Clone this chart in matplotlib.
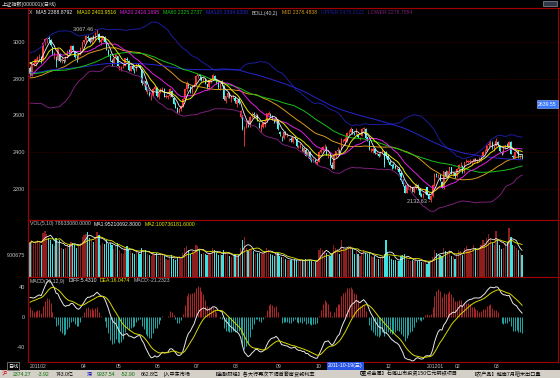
import numpy as np
import pandas as pd
import matplotlib
matplotlib.use("Agg")
import matplotlib.pyplot as plt
from matplotlib.patches import Rectangle

plt.rcParams['font.family'] = ['Liberation Sans', 'Noto Sans CJK SC', 'DejaVu Sans']

# ==== data (daily, 2011-02-23 .. 2012-03-22) ====
# closes before the visible window, only used to warm up the indicators
warm_closes = [
    2894, 2838, 2858, 2888, 2828, 2875, 2880, 2870, 2880, 2835, 2820,
    2823, 2842, 2857, 2878, 2875, 2893, 2865, 2882, 2925, 2928, 2913, 2866,
    2894, 2855, 2873, 2852, 2838, 2834, 2833, 2767, 2793, 2791, 2808,
    2852, 2839, 2824, 2838, 2792, 2804, 2821, 2827, 2791, 2706, 2721, 2756,
    2678, 2715, 2677, 2677, 2708, 2742, 2752, 2790,
    2798, 2800, 2775, 2800, 2828, 2900, 2900, 2934, 2920, 2900, 2932, 2863,
]

opens = [
    2860, 2822, 2880, 2880,
    2907, 2912, 2918, 2901, 2994, 3012, 3021, 3011, 2970, 2931, 2907, 2899, 2935, 2898, 2899, 2891, 2917, 2951, 2945, 2979, 2947, 2914, 2910,
    2930, 2968, 2998, 3007, 3028, 3020, 2997, 3024, 3017, 3051, 3043, 2998, 3010, 3028, 2995, 2950, 2931, 2893, 2880,
    2911, 2924, 2858, 2850, 2866, 2870, 2909, 2898, 2840, 2870, 2853, 2846, 2880, 2870, 2850, 2770, 2787, 2730, 2737, 2705, 2706,
    2745, 2750, 2698, 2730, 2740, 2745, 2699, 2700, 2705, 2735, 2695, 2660, 2640, 2618, 2637, 2650, 2690, 2745, 2770, 2755, 2726,
    2765, 2770, 2812, 2818, 2805, 2790, 2795, 2770, 2752, 2788, 2795, 2815, 2795, 2780, 2750, 2780, 2760, 2680, 2702, 2720, 2693,
    2700, 2695, 2660, 2690, 2590, 2600, 2495, 2540, 2560, 2548, 2595, 2610, 2598, 2600, 2555, 2522, 2540, 2552, 2570, 2605, 2605, 2595, 2575,
    2565, 2580, 2510, 2480, 2476, 2510, 2492, 2470, 2475, 2458, 2485, 2475, 2428, 2430, 2420, 2400, 2415, 2380, 2400, 2366, 2358,
    2360, 2333, 2350, 2400, 2415, 2433, 2430, 2383, 2380, 2330, 2312, 2380, 2405, 2410, 2420, 2465,
    2460, 2462, 2505, 2512, 2525, 2505, 2503, 2495, 2475, 2490, 2526, 2528, 2482, 2462, 2410, 2410, 2420, 2390, 2390, 2395, 2404, 2405,
    2400, 2380, 2350, 2330, 2328, 2326, 2305, 2312, 2287, 2245, 2220, 2178, 2215, 2212, 2210, 2186, 2205, 2222, 2200, 2170, 2160, 2175,
    2212, 2168, 2140, 2165, 2222, 2280, 2270, 2276, 2240, 2205, 2295, 2265, 2300, 2318, 2275,
    2288, 2270, 2310, 2330, 2328, 2292, 2346, 2348, 2350, 2345, 2350, 2366, 2350, 2360, 2361, 2380, 2405, 2408, 2440, 2445, 2452,
    2420, 2435, 2458, 2440, 2402, 2397, 2422, 2440, 2433, 2456, 2380, 2370, 2403, 2408, 2375, 2380,
]

highs = [
    2868, 2880, 2906, 2910,
    2925, 2932, 2922, 2996, 3022, 3027, 3031, 3015, 2975, 2945, 2923, 2961, 2937, 2917, 2909, 2920, 2956, 2960, 2983, 2984, 2950, 2927, 2938,
    2969, 3000, 3012, 3035, 3038, 3028, 3029, 3035, 3054, 3067.46, 3046, 3018, 3030, 3030, 2996, 2958, 2933, 2906, 2918,
    2935, 2925, 2870, 2870, 2880, 2912, 2917, 2900, 2875, 2875, 2860, 2882, 2885, 2875, 2850, 2792, 2790, 2745, 2740, 2720, 2747,
    2765, 2752, 2730, 2750, 2757, 2747, 2715, 2713, 2748, 2738, 2700, 2672, 2645, 2640, 2657, 2695, 2750, 2786, 2778, 2760, 2763,
    2777, 2822, 2827, 2825, 2812, 2806, 2801, 2773, 2794, 2800, 2826, 2822, 2800, 2785, 2784, 2790, 2765, 2706, 2732, 2726, 2710,
    2712, 2703, 2690, 2700, 2630, 2605, 2545, 2578, 2575, 2598, 2618, 2620, 2614, 2606, 2567, 2553, 2565, 2575, 2615, 2625, 2615, 2601, 2585,
    2590, 2582, 2515, 2490, 2510, 2518, 2505, 2480, 2483, 2483, 2490, 2477, 2442, 2449, 2433, 2428, 2421, 2408, 2405, 2375, 2369,
    2366, 2355, 2405, 2430, 2435, 2446, 2432, 2397, 2383, 2345, 2385, 2410, 2430, 2418, 2476, 2473,
    2482, 2508, 2519, 2536, 2528, 2512, 2533, 2500, 2484, 2530, 2536, 2530, 2483, 2464, 2424, 2430, 2422, 2401, 2397, 2410, 2416, 2408,
    2410, 2390, 2356, 2338, 2340, 2332, 2320, 2318, 2292, 2255, 2226, 2230, 2229, 2225, 2214, 2210, 2232, 2230, 2204, 2180, 2180, 2202,
    2212, 2178, 2167, 2226, 2287, 2290, 2285, 2284, 2246, 2300, 2305, 2300, 2320, 2320, 2296,
    2290, 2314, 2338, 2345, 2330, 2350, 2362, 2358, 2363, 2352, 2370, 2372, 2364, 2376, 2384, 2405, 2418, 2441, 2459, 2468, 2460,
    2440, 2478, 2462, 2442, 2410, 2425, 2440, 2452, 2460, 2462, 2385, 2407, 2415, 2409, 2386, 2390,
]

lows = [
    2818, 2815, 2870, 2871,
    2893, 2895, 2886, 2898, 2981, 2994, 3001, 2977, 2930, 2905, 2862, 2896, 2891, 2883, 2885, 2890, 2912, 2934, 2940, 2950, 2910, 2890, 2904,
    2928, 2960, 2988, 2997, 3010, 2992, 2990, 3008, 3010, 3036, 3000, 2985, 3005, 2995, 2953, 2922, 2893, 2869, 2878,
    2905, 2866, 2845, 2840, 2855, 2868, 2893, 2843, 2840, 2845, 2832, 2843, 2866, 2850, 2765, 2760, 2735, 2718, 2705, 2686, 2700,
    2740, 2698, 2690, 2723, 2728, 2700, 2694, 2689, 2700, 2698, 2660, 2638, 2611, 2612, 2622, 2645, 2686, 2733, 2751, 2724, 2718,
    2755, 2766, 2805, 2795, 2788, 2780, 2770, 2745, 2740, 2775, 2790, 2790, 2770, 2745, 2738, 2760, 2685, 2670, 2696, 2695, 2675,
    2690, 2670, 2648, 2660, 2585, 2522, 2437, 2530, 2540, 2540, 2585, 2590, 2588, 2568, 2530, 2512, 2530, 2540, 2565, 2600, 2590, 2576, 2560,
    2560, 2520, 2490, 2460, 2470, 2493, 2485, 2464, 2457, 2452, 2470, 2428, 2425, 2422, 2408, 2392, 2378, 2367, 2360, 2345, 2350,
    2340, 2331, 2346, 2395, 2408, 2420, 2384, 2368, 2330, 2307, 2308, 2372, 2396, 2385, 2418, 2455,
    2442, 2458, 2495, 2506, 2502, 2494, 2500, 2478, 2465, 2488, 2518, 2475, 2460, 2412, 2400, 2395, 2389, 2383, 2376, 2379, 2395, 2319,
    2372, 2350, 2330, 2312, 2316, 2308, 2302, 2285, 2244, 2220, 2177, 2178, 2200, 2198, 2185, 2180, 2200, 2198, 2165, 2157, 2154, 2172,
    2168, 2146, 2132.63, 2160, 2220, 2266, 2262, 2243, 2205, 2200, 2265, 2262, 2290, 2280, 2270,
    2262, 2267, 2305, 2320, 2286, 2288, 2340, 2340, 2343, 2332, 2346, 2352, 2340, 2352, 2355, 2378, 2398, 2405, 2430, 2437, 2420,
    2410, 2432, 2433, 2404, 2384, 2392, 2418, 2430, 2425, 2389, 2362, 2367, 2395, 2370, 2364, 2365,
]

closes = [
    2825, 2879, 2880, 2905,
    2918, 2919, 2900, 2993, 3013, 3022, 3014, 2984, 2938, 2938, 2896, 2958, 2898, 2906, 2893, 2917, 2952, 2946, 2978, 2953, 2915, 2912, 2928,
    2967, 2998, 3007, 3030, 3022, 2999, 3026, 3018, 3050, 3057, 3007, 3007, 3029, 2999, 2955, 2932, 2899, 2888, 2911,
    2932, 2867, 2866, 2863, 2872, 2910, 2900, 2846, 2871, 2853, 2850, 2878, 2874, 2858, 2775, 2786, 2737, 2733, 2710, 2707, 2743,
    2754, 2705, 2728, 2743, 2745, 2701, 2705, 2704, 2743, 2700, 2664, 2642, 2621, 2636, 2653, 2688, 2746, 2775, 2759, 2728, 2762,
    2767, 2816, 2823, 2812, 2795, 2797, 2776, 2755, 2791, 2796, 2820, 2797, 2781, 2753, 2780, 2771, 2688, 2703, 2724, 2698, 2702,
    2703, 2678, 2684, 2667, 2626, 2527, 2526, 2568, 2549, 2593, 2608, 2601, 2605, 2571, 2534, 2540, 2558, 2566, 2612, 2612, 2598, 2581, 2567,
    2585, 2528, 2499, 2477, 2508, 2498, 2497, 2474, 2469, 2481, 2482, 2432, 2432, 2445, 2416, 2426, 2382, 2404, 2366, 2362, 2359,
    2344, 2347, 2402, 2414, 2431, 2437, 2386, 2383, 2332, 2317, 2383, 2407, 2414, 2395, 2473, 2468,
    2470, 2505, 2507, 2528, 2509, 2503, 2529, 2481, 2479, 2528, 2530, 2479, 2466, 2416, 2415, 2419, 2395, 2397, 2380, 2402, 2409, 2333,
    2387, 2360, 2334, 2325, 2327, 2316, 2315, 2291, 2248, 2228, 2181, 2224, 2218, 2216, 2191, 2206, 2225, 2206, 2170, 2164, 2173, 2199,
    2169, 2148, 2163, 2225, 2285, 2276, 2275, 2245, 2206, 2298, 2268, 2297, 2319, 2285, 2292,
    2269, 2311, 2331, 2330, 2291, 2348, 2350, 2351, 2352, 2346, 2366, 2357, 2357, 2363, 2381, 2404, 2409, 2439, 2447, 2451, 2428,
    2434, 2460, 2445, 2410, 2395, 2421, 2439, 2435, 2455, 2391, 2373, 2404, 2410, 2376, 2378, 2374.27,
]

# volume, millions of hands
volumes = [
    140, 150, 135, 145,
    150, 148, 130, 180, 190, 175, 160, 150, 135, 125, 160, 140, 150, 120, 115, 120, 135, 130, 145, 140, 130, 120, 125,
    140, 165, 170, 175, 185, 160, 150, 145, 165, 185, 170, 130, 140, 135, 150, 135, 140, 130, 115,
    125, 140, 110, 100, 95, 120, 125, 115, 105, 100, 95, 110, 100, 95, 120, 105, 110, 95, 90, 85, 95,
    95, 100, 85, 90, 90, 85, 75, 70, 85, 90, 75, 70, 80, 85, 75, 100, 120, 125, 110, 95, 105,
    100, 130, 125, 110, 95, 100, 95, 90, 100, 95, 120, 110, 100, 90, 95, 90, 110, 100, 95, 85, 80,
    85, 90, 85, 90, 120, 150, 165, 120, 105, 110, 115, 105, 95, 100, 100, 95, 100, 105, 120, 110, 95, 90, 85,
    95, 100, 85, 80, 80, 75, 70, 70, 70, 65, 75, 70, 65, 65, 70, 65, 75, 70, 70, 65, 60,
    60, 65, 110, 120, 110, 105, 100, 85, 85, 95, 130, 120, 115, 95, 150, 120,
    110, 120, 115, 125, 115, 95, 105, 95, 85, 100, 110, 100, 95, 100, 85, 80, 85, 75, 75, 80, 80, 95,
    150, 100, 85, 75, 70, 70, 65, 65, 85, 90, 95, 80, 70, 65, 70, 65, 75, 65, 70, 60, 60, 65,
    55, 60, 70, 80, 110, 100, 95, 90, 85, 120, 105, 100, 110, 85, 80,
    75, 95, 110, 105, 90, 120, 125, 115, 110, 100, 130, 120, 110, 120, 130, 150, 140, 160, 175, 155, 140,
    130, 190, 150, 130, 115, 120, 140, 145, 200, 165, 130, 125, 120, 110, 100, 90,
]

month_days = [4, 23, 19, 21, 21, 21, 23, 21, 16, 22, 22, 15, 21, 16]
month_names = ['201102', '', '04', '05', '06', '07', '08', '09', '10', '', '12', '201201', '02', '03']

n = len(closes)
for name, arr in [('opens', opens), ('highs', highs), ('lows', lows), ('volumes', volumes)]:
    if len(arr) != n:
        raise ValueError(f"{name} has {len(arr)} values, closes has {n}")

# ==== 指標 ====
allc = pd.Series(warm_closes + closes, dtype=float)
nw = len(warm_closes)


def ma(k):
    return allc.rolling(k, min_periods=1).mean().values[nw:]


mid = allc.rolling(40, min_periods=1).mean()
sd = allc.rolling(40, min_periods=2).std().bfill()
upper = (mid + 2 * sd).values[nw:]
lower = (mid - 2 * sd).values[nw:]
mid = mid.values[nw:]

dif = allc.ewm(span=12, adjust=False).mean() - allc.ewm(span=26, adjust=False).mean()
dea = dif.ewm(span=9, adjust=False).mean()
hist = (2 * (dif - dea)).values[nw:]
dif = dif.values[nw:]
dea = dea.values[nw:]

vol = pd.Series(volumes, dtype=float)
vma5 = vol.rolling(5, min_periods=1).mean().values
vma10 = vol.rolling(10, min_periods=1).mean().values

o = np.array(opens, dtype=float)
c = np.array(closes, dtype=float)
h = np.maximum(np.array(highs, dtype=float), np.maximum(o, c))
l = np.minimum(np.array(lows, dtype=float), np.minimum(o, c))
x = np.arange(n)
up = c >= o

# ==== layout (pixels) ====
W, H = 560, 378
STEP = 1.864
X0 = 30
FS = 3.7
FRAME = '#a00000'
GRID = '#4a0000'
LABEL = '#c0c0c0'
RED = '#ff3c3c'
CYAN = '#54fcfc'


def box(x0, y0, x1, y1):
    return [x0 / W, 1 - y1 / H, (x1 - x0) / W, (y1 - y0) / H]


def ftext(px, py, s, color, **kw):
    return fig.text(px / W, 1 - py / H, s, color=color, fontsize=kw.pop('fontsize', FS),
                    va='center', ha=kw.pop('ha', 'left'), **kw)


def text_row(px, py, items, gap=3, **kw):
    # 左から順に並べる
    renderer = fig.canvas.get_renderer()
    for s, col in items:
        t = ftext(px, py, s, col, **kw)
        px = t.get_window_extent(renderer).x1 + gap


def style(ax, ylim, ticks, labels):
    ax.set_facecolor('black')
    ax.set_xlim((28 - X0) / STEP, (558 - X0) / STEP)
    ax.set_ylim(*ylim)
    ax.set_xticks([])
    ax.set_yticks(ticks)
    ax.set_yticklabels(labels)
    ax.tick_params(axis='y', length=0, pad=2, labelsize=FS + 0.3, labelcolor=LABEL)
    for s in ax.spines.values():
        s.set_color(FRAME)
        s.set_linewidth(0.8)


fig = plt.figure(figsize=(W / 100, H / 100), dpi=100, facecolor='black')

# ---- price panel ----
ax = fig.add_axes(box(28, 8, 558, 220))
style(ax, (2033, 3183), [2200, 2400, 2600, 2800, 3000], ['2200', '2400', '2600', '2800', '3000'])
ax.grid(axis='y', color=GRID, lw=0.6, ls=(0, (1, 1.5)))
ax.set_axisbelow(True)
cols = np.where(up, RED, CYAN)
ax.vlines(x, l, h, colors=cols, lw=0.6, zorder=2)
body = np.maximum(np.abs(c - o), 2.0)
ax.bar(x, body, bottom=np.minimum(o, c), width=0.62, color=cols, lw=0, zorder=2)

ax.plot(x, upper, color='#1c1c9c', lw=0.7, zorder=3)
ax.plot(x, lower, color='#7a1f78', lw=0.7, zorder=3)
ax.plot(x, mid, color='#d89a1c', lw=0.7, zorder=3)
ax.plot(x, ma(120), color='#2626d0', lw=0.7, zorder=3)
ax.plot(x, ma(60), color='#18c018', lw=0.7, zorder=3)
ax.plot(x, ma(20), color='#e020e0', lw=0.7, zorder=4)
ax.plot(x, ma(10), color='#e8e800', lw=0.7, zorder=4)
ax.plot(x, ma(5), color='#f0f0f0', lw=0.6, zorder=4)

i_hi = int(np.argmax(h))
i_lo = int(np.argmin(l))
ax.text(i_hi - 0.3, h[i_hi], f'{h[i_hi]:.2f} -', color=LABEL, fontsize=FS + 0.3, ha='right', va='center')
ax.text(i_lo - 0.3, l[i_lo], f'{l[i_lo]:.2f} -', color=LABEL, fontsize=FS + 0.3, ha='right', va='center')

# ---- volume panel ----
axv = fig.add_axes(box(28, 220, 558, 277))
style(axv, (0, 233), [90.0675], ['900675'])
vcols = np.where(up, '#8e1e1e', '#3ee0e0')
axv.bar(x, volumes, width=0.65, color=vcols, lw=0)
axv.plot(x, vma5, color='#f0f0f0', lw=0.6)
axv.plot(x, vma10, color='#e8e800', lw=0.6)

# ---- MACD panel ----
axm = fig.add_axes(box(28, 277, 558, 362))
style(axm, (-61, 54.2), [-40, 0, 40], ['-40', '0', '40'])
hcols = np.where(hist >= 0, '#b02828', '#1fa8a8')
axm.vlines(x, 0, hist, colors=hcols, lw=0.7)
axm.plot(x, dif, color='#e8e8e8', lw=0.7)
axm.plot(x, dea, color='#d8d800', lw=0.7)

# ---- texts ----
ftext(2, 4, '上证指数(000001)(日线)', '#e0e0e0')
fig.add_artist(plt.Line2D([0, 1], [1 - 7.5 / H] * 2, color=FRAME, lw=0.8))
fig.add_artist(plt.Line2D([28 / W] * 2, [1 - 362 / H, 1 - 7.5 / H], color=FRAME, lw=0.8))
fig.add_artist(Rectangle((543 / W, 1 - 6 / H), 14 / W, 5.5 / H, transform=fig.transFigure,
                         facecolor='#303848', edgecolor='#9090a0', lw=0.5))

text_row(29, 13, [
    ('X', '#d0d0d0'), ('MA5 2388.8792', '#f0f0f0'), ('MA10 2403.9516', '#e8e800'),
    ('MA20 2416.1695', '#e020e0'), ('MA60 2325.2737', '#18c018'),
    ('MA120 2394.6208', '#2626d0'), ('BOLL(40,2)', '#d0d0d0'),
    ('MID 2378.4838', '#d89a1c'), ('UPPER 2478.2122', '#1c1c9c'),
    ('LOWER 2278.7554', '#7a1f78'),
], gap=4)

text_row(30, 224, [
    ('VOL(5,10) 78633080.0000', LABEL), ('MA1:95210692.8000', '#f0f0f0'),
    ('MA2:100736181.6000', '#e8e800'),
])

text_row(30, 281, [
    ('MACD(26,12,9)', LABEL), ('DIFF:5.4310', '#f0f0f0'),
    ('DEA:16.0474', '#e8e800'), ('MACD:-21.2323', LABEL),
])

ftext(538, 104, '2639.55', 'white',
      bbox=dict(boxstyle='square,pad=0.25', facecolor='#3a78ff', edgecolor='#a0c0ff', lw=0.4))

# x axis labels
starts = np.concatenate([[0], np.cumsum(month_days)[:-1]])
for s, name in zip(starts, month_names):
    if name:
        ftext(X0 + s * STEP, 366, name, LABEL)
ftext(328, 366, '2011-10-19(三)', 'white',
      bbox=dict(boxstyle='square,pad=0.2', facecolor='#2a56e8', edgecolor='none'))
ftext(13, 366, '日线', 'white', ha='center',
      bbox=dict(boxstyle='square,pad=0.2', facecolor='black', edgecolor='#909090', lw=0.5))

# status bar
fig.add_artist(Rectangle((0, 0), 1, 8 / H, transform=fig.transFigure, facecolor='#d4d0c8', edgecolor='none'))
text_row(2, 374, [
    ('沪', '#d00000'), ('2374.27', '#007000'), ('-3.92', '#007000'), ('743.0亿', '#000000'),
], gap=6)
text_row(87, 374, [
    ('深', '#0000c0'), ('9937.54', '#007000'), ('-52.90', '#007000'), ('662.8亿', '#000000'),
    ('|入中东市场', '#000000'),
], gap=5)
ftext(213, 374, '【金融财经】各大行再次下调首套房贷款利率', '#000000')
ftext(357, 374, '【重点金属】石嘴山市投资150亿元钢铁项目', '#000000')
ftext(472, 374, '【农产品】越南7月稻米出口量', '#000000')

fig.savefig('out.png', dpi=100, facecolor='black')
